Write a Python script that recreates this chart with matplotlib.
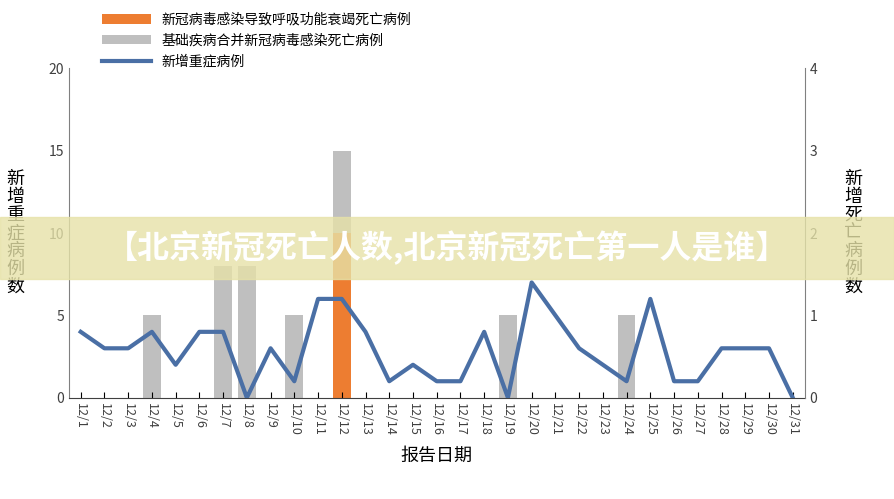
import matplotlib
matplotlib.use("Agg")
import matplotlib.pyplot as plt
import numpy as np

plt.rcParams['font.family'] = ['Noto Sans CJK SC', 'DejaVu Sans']

dates = [f"12/{d}" for d in range(1, 32)]
orange = [0]*11 + [10] + [0]*19
gray = [0,0,0,5,0,0,8,8,0,5,0,5,0,0,0,0,0,0,5,0,0,0,0,5,0,0,0,0,0,0,0]
severe = [0.8,0.6,0.6,0.8,0.4,0.8,0.8,0,0.6,0.2,1.2,1.2,0.8,0.2,0.4,0.2,0.2,0.8,0,1.4,1.0,0.6,0.4,0.2,1.2,0.2,0.2,0.6,0.6,0.6,0]

fig = plt.figure(figsize=(8.94, 4.99), dpi=100)
ax = fig.add_axes([0.077, 0.203, 0.823, 0.66])
x = np.arange(len(dates))
b1 = ax.bar(x, orange, width=0.75, color='#ed7d31', label='新冠病毒感染导致呼吸功能衰竭死亡病例')
b2 = ax.bar(x, gray, width=0.75, bottom=orange, color='#bfbfbf', label='基础疾病合并新冠病毒感染死亡病例')
ax.set_ylim(0, 20)
ax.set_yticks([0,5,10,15,20])
ax.set_xlim(-0.5, 30.5)
ax.set_xticks(x)
ax.set_xticklabels(dates, rotation=-90, fontsize=9, color='#404040')
ax.tick_params(axis='x', direction='in', length=4)
ax.tick_params(axis='y', length=0, labelsize=10, colors='#404040')
for s in ['top', 'right']:
    ax.spines[s].set_visible(False)
ax.spines['left'].set_color('#808080')
ax.spines['bottom'].set_color('#404040')
ax.set_ylabel('新\n增\n重\n症\n病\n例\n数', rotation=0, fontsize=13, va='center', labelpad=24, linespacing=1.0)

ax2 = ax.twinx()
l, = ax2.plot(x, severe, color='#4a6fa5', lw=3, label='新增重症病例')
ax2.set_ylim(0, 4)
ax2.set_yticks([0,1,2,3,4])
ax2.tick_params(axis='y', length=0, labelsize=10, colors='#404040')
for s in ['top', 'left', 'bottom']:
    ax2.spines[s].set_visible(False)
ax2.spines['right'].set_color('#808080')
ax2.set_ylabel('新\n增\n死\n亡\n病\n例\n数', rotation=0, fontsize=13, va='center', labelpad=26, linespacing=1.0)

ax.set_xlabel('报告日期', fontsize=13, labelpad=8)
fig.legend(handles=[b1, b2, l], loc='upper left', bbox_to_anchor=(0.1, 1.0), frameon=False, fontsize=10, handlelength=3.5)

fig.patches.append(plt.Rectangle((0, 0.44), 1, 0.125, transform=fig.transFigure, color='#e6e2a8', alpha=0.8, zorder=10))
fig.text(0.5, 0.503, '【北京新冠死亡人数,北京新冠死亡第一人是谁】', ha='center', va='center', fontsize=23, fontweight='bold', color='white', zorder=11)

fig.savefig('out.png', dpi=100)
